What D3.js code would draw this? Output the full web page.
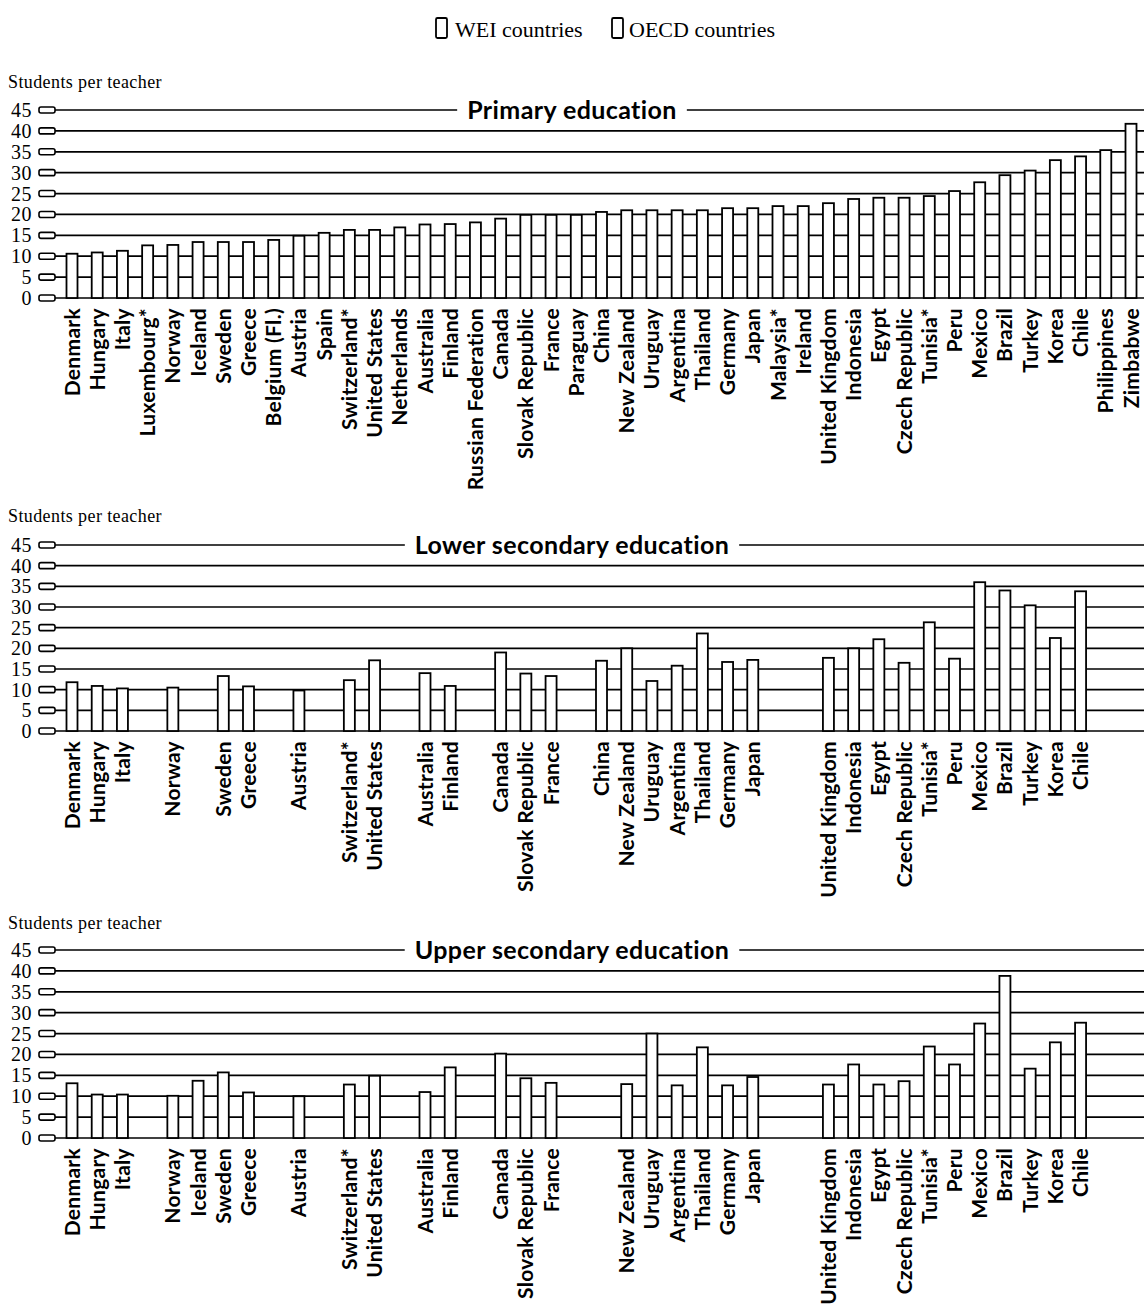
<!DOCTYPE html>
<html>
<head>
<meta charset="utf-8">
<script src="https://cdn.jsdelivr.net/npm/d3@7"></script>
<style>
  html, body { margin: 0; padding: 0; background: #fff; }
  svg { display: block; }
</style>
</head>
<body>
<svg id="chart" width="1144" height="1316"></svg>
<script>
// ---------------- DATA ----------------
const categories = ["Denmark","Hungary","Italy","Luxembourg*","Norway","Iceland","Sweden","Greece","Belgium (Fl.)","Austria","Spain","Switzerland*","United States","Netherlands","Australia","Finland","Russian Federation","Canada","Slovak Republic","France","Paraguay","China","New Zealand","Uruguay","Argentina","Thailand","Germany","Japan","Malaysia*","Ireland","United Kingdom","Indonesia","Egypt","Czech Republic","Tunisia*","Peru","Mexico","Brazil","Turkey","Korea","Chile","Philippines","Zimbabwe"];

const primaryValues = [10.6,10.9,11.3,12.6,12.7,13.4,13.4,13.4,13.9,14.9,15.6,16.3,16.3,16.9,17.6,17.7,18.1,19.0,19.9,19.9,19.9,20.6,21.0,21.0,21.0,21.0,21.5,21.5,22.0,22.0,22.7,23.7,24.0,24.0,24.4,25.6,27.7,29.4,30.5,33.0,33.9,35.4,41.7];

const lowerSecondaryValues = [11.8,10.9,10.3,null,10.5,null,13.3,10.8,null,9.8,null,12.3,17.1,null,14.0,10.9,null,19.0,13.9,13.3,null,17.0,20.0,12.1,15.8,23.6,16.7,17.2,null,null,17.7,20.0,22.2,16.5,26.3,17.5,36.0,34.0,30.4,22.5,33.8,null,null];

const upperSecondaryValues = [13.1,10.4,10.4,null,10.1,13.7,15.7,10.9,null,10.0,null,12.8,14.9,null,11.0,16.9,null,20.2,14.3,13.2,null,null,12.9,25.0,12.6,21.7,12.6,14.6,null,null,12.8,17.6,12.8,13.6,21.9,17.6,27.4,38.8,16.6,22.9,27.6,null,null];

const yTicks = [0,5,10,15,20,25,30,35,40,45];
const legendLabels = ["WEI countries", "OECD countries"];
const axisTitle = "Students per teacher";
const panelTitles = ["Primary education", "Lower secondary education", "Upper secondary education"];

// ---------------- DRAW ----------------
const svg = d3.select("#chart");
const W = 1144;
const serif = "'Liberation Serif', 'DejaVu Serif', serif";
const sans = "Lato, 'Open Sans', sans-serif";

// Legend
const legend = svg.append("g");
const legendPos = [{rx: 436, tx: 455}, {rx: 612, tx: 629}];
legendLabels.forEach((lab, i) => {
  legend.append("rect")
    .attr("x", legendPos[i].rx).attr("y", 18)
    .attr("width", 11).attr("height", 20).attr("rx", 1.5)
    .attr("fill", "#fff").attr("stroke", "#000").attr("stroke-width", 1.8);
  legend.append("text")
    .attr("x", legendPos[i].tx).attr("y", 37)
    .attr("font-family", serif).attr("font-size", 22)
    .text(lab);
});

const x = d3.scalePoint().domain(categories).range([72, 1131]);

const panels = [
  {values: primaryValues, top: 110, bottom: 298, labelY: 88},
  {values: lowerSecondaryValues, top: 545, bottom: 731, labelY: 522},
  {values: upperSecondaryValues, top: 950, bottom: 1138, labelY: 929}
];

panels.forEach((p, pi) => {
  const g = svg.append("g");
  const y = d3.scaleLinear().domain([0, 45]).range([p.bottom, p.top]);

  g.append("text")
    .attr("x", 8).attr("y", p.labelY)
    .attr("font-family", serif).attr("font-size", 18)
    .attr("letter-spacing", 0.4)
    .text(axisTitle);

  // gridlines
  g.selectAll(".grid").data(yTicks).enter().append("line")
    .attr("x1", 55).attr("x2", W)
    .attr("y1", d => y(d)).attr("y2", d => y(d))
    .attr("stroke", "#000").attr("stroke-width", 1.7);

  // tick markers
  g.selectAll(".tm").data(yTicks).enter().append("rect")
    .attr("x", 39).attr("y", d => y(d) - 3)
    .attr("width", 16).attr("height", 6).attr("rx", 2)
    .attr("fill", "#fff").attr("stroke", "#000").attr("stroke-width", 1.6);

  // tick labels
  g.selectAll(".tl").data(yTicks).enter().append("text")
    .attr("x", 32).attr("y", d => y(d))
    .attr("dy", "0.35em")
    .attr("text-anchor", "end")
    .attr("font-family", serif).attr("font-size", 20)
    .attr("letter-spacing", 0.5)
    .text(d => d);

  // title with white background
  const t = g.append("text")
    .attr("x", 572).attr("y", p.top)
    .attr("dy", "0.35em")
    .attr("text-anchor", "middle")
    .attr("font-family", sans).attr("font-weight", 700).attr("font-size", 25)
    .attr("letter-spacing", 0.4)
    .text(panelTitles[pi]);
  const bb = t.node().getBBox();
  g.insert("rect", "text:last-of-type")
    .attr("x", bb.x - 10).attr("y", bb.y)
    .attr("width", bb.width + 20).attr("height", bb.height)
    .attr("fill", "#fff");
  t.raise();

  // bars
  const data = categories.map((c, i) => ({c, v: p.values[i]})).filter(d => d.v != null);
  const bw = 11;
  g.selectAll(".bar").data(data).enter().append("rect")
    .attr("x", d => x(d.c) - bw / 2)
    .attr("y", d => y(d.v))
    .attr("width", bw)
    .attr("height", d => y(0) - y(d.v))
    .attr("fill", "#fff").attr("stroke", "#000").attr("stroke-width", 1.8);

  // category labels
  g.selectAll(".cl").data(data).enter().append("text")
    .attr("transform", d => `translate(${x(d.c)},${p.bottom + 10}) rotate(-90)`)
    .attr("dy", "0.36em")
    .attr("text-anchor", "end")
    .attr("font-family", sans).attr("font-weight", 700).attr("font-size", 21)
    .attr("letter-spacing", 0.3)
    .text(d => d.c);
});
</script>
</body>
</html>
